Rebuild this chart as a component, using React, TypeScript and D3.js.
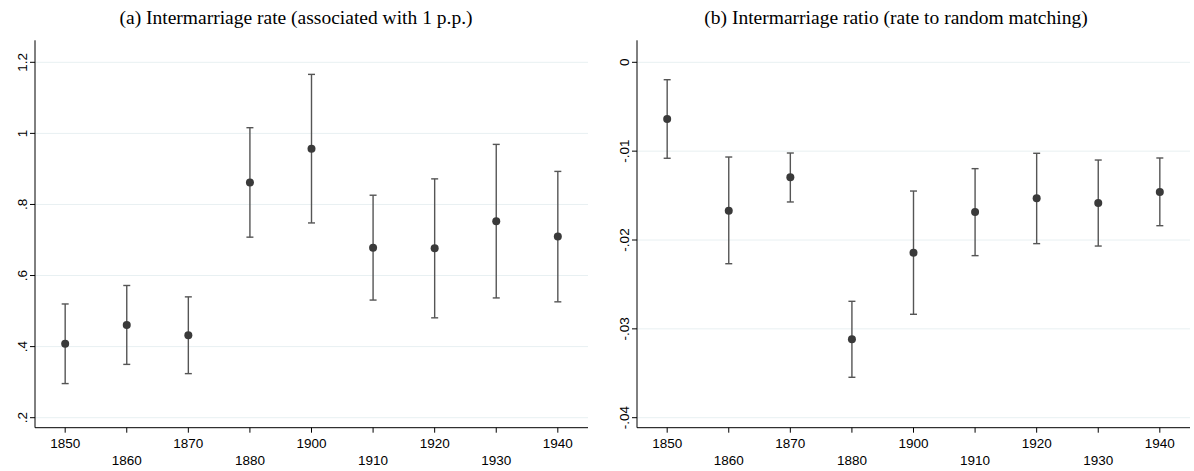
import React from "react";
import * as d3 from "d3";

const years = ["1850", "1860", "1870", "1880", "1900", "1910", "1920", "1930", "1940"];

// Panel (a): intermarriage rate
const rateEst = [0.408, 0.461, 0.432, 0.862, 0.957, 0.678, 0.677, 0.753, 0.710];
const rateLo = [0.296, 0.350, 0.324, 0.708, 0.748, 0.531, 0.481, 0.537, 0.526];
const rateHi = [0.520, 0.572, 0.540, 1.016, 1.166, 0.826, 0.872, 0.969, 0.893];
const rateTicks = [0.2, 0.4, 0.6, 0.8, 1.0, 1.2];
const rateTickLabels = [".2", ".4", ".6", ".8", "1", "1.2"];

// Panel (b): intermarriage ratio
const ratioEst = [-0.00638, -0.0167, -0.01294, -0.03118, -0.02143, -0.01685, -0.01531, -0.01584, -0.0146];
const ratioLo = [-0.0108, -0.02267, -0.01572, -0.03545, -0.02836, -0.02176, -0.02041, -0.02068, -0.01839];
const ratioHi = [-0.00196, -0.01066, -0.01021, -0.0269, -0.01449, -0.01197, -0.01024, -0.011, -0.01077];
const ratioTicks = [-0.04, -0.03, -0.02, -0.01, 0];
const ratioTickLabels = ["-.04", "-.03", "-.02", "-.01", "0"];

const titleA = "(a) Intermarriage rate (associated with 1 p.p.)";
const titleB = "(b) Intermarriage ratio (rate to random matching)";

type PanelProps = {
  left: number;
  right: number;
  titleX: number;
  title: string;
  est: number[];
  lo: number[];
  hi: number[];
  ticks: number[];
  tickLabels: string[];
  yDomain: [number, number];
};

const TOP = 62.3;
const BOTTOM = 417.7;
const AXIS_Y = 427.7;
const FONT = "'Liberation Sans', Arial, sans-serif";
const TICK_FS = 13.5;

function Panel(p: PanelProps) {
  const x = d3
    .scaleLinear()
    .domain([-0.49, years.length - 1 + 0.49])
    .range([p.left, p.right]);
  const y = d3.scaleLinear().domain(p.yDomain).range([BOTTOM, TOP]);
  const cap = 3.5;
  return (
    <g>
      <text
        x={p.titleX}
        y={24}
        textAnchor="middle"
        fontFamily="'Liberation Serif', 'Times New Roman', serif"
        fontSize={19.5}
        fill="#000"
      >
        {p.title}
      </text>
      {p.ticks.map((t, i) => (
        <g key={"g" + i}>
          <line x1={p.left} x2={p.right} y1={y(t)} y2={y(t)} stroke="#e8f0f2" strokeWidth={1} />
          <line x1={p.left - 5} x2={p.left} y1={y(t)} y2={y(t)} stroke="#000" strokeWidth={1} />
          <text
            transform={`translate(${p.left - 8},${y(t)}) rotate(-90)`}
            textAnchor="middle"
            fontFamily={FONT}
            fontSize={TICK_FS}
            fill="#000"
          >
            {p.tickLabels[i]}
          </text>
        </g>
      ))}
      <line x1={p.left} x2={p.left} y1={TOP - 22} y2={AXIS_Y} stroke="#000" strokeWidth={1} />
      <line x1={p.left} x2={p.right} y1={AXIS_Y} y2={AXIS_Y} stroke="#000" strokeWidth={1} />
      {years.map((yr, i) => (
        <g key={"x" + i}>
          <line x1={x(i)} x2={x(i)} y1={AXIS_Y} y2={AXIS_Y + 5} stroke="#000" strokeWidth={1} />
          <text
            x={x(i)}
            y={i % 2 === 0 ? 447.5 : 465}
            textAnchor="middle"
            fontFamily={FONT}
            fontSize={TICK_FS}
            fill="#000"
          >
            {yr}
          </text>
        </g>
      ))}
      {years.map((yr, i) => (
        <g key={"e" + i}>
          <line x1={x(i)} x2={x(i)} y1={y(p.lo[i])} y2={y(p.hi[i])} stroke="#555" strokeWidth={1.4} />
          <line x1={x(i) - cap} x2={x(i) + cap} y1={y(p.lo[i])} y2={y(p.lo[i])} stroke="#555" strokeWidth={1.4} />
          <line x1={x(i) - cap} x2={x(i) + cap} y1={y(p.hi[i])} y2={y(p.hi[i])} stroke="#555" strokeWidth={1.4} />
          <circle cx={x(i)} cy={y(p.est[i])} r={4} fill="#3a3a3a" />
        </g>
      ))}
    </g>
  );
}

export default function App() {
  return (
    <svg
      width={1194}
      height={471}
      style={{ position: "absolute", left: 0, top: 0, background: "#fff" }}
    >
      <rect x={0} y={0} width={1194} height={471} fill="#fff" />
      <Panel
        left={35}
        right={588}
        titleX={296}
        title={titleA}
        est={rateEst}
        lo={rateLo}
        hi={rateHi}
        ticks={rateTicks}
        tickLabels={rateTickLabels}
        yDomain={[0.2, 1.2]}
      />
      <Panel
        left={637}
        right={1190}
        titleX={896}
        title={titleB}
        est={ratioEst}
        lo={ratioLo}
        hi={ratioHi}
        ticks={ratioTicks}
        tickLabels={ratioTickLabels}
        yDomain={[-0.04, 0]}
      />
    </svg>
  );
}
